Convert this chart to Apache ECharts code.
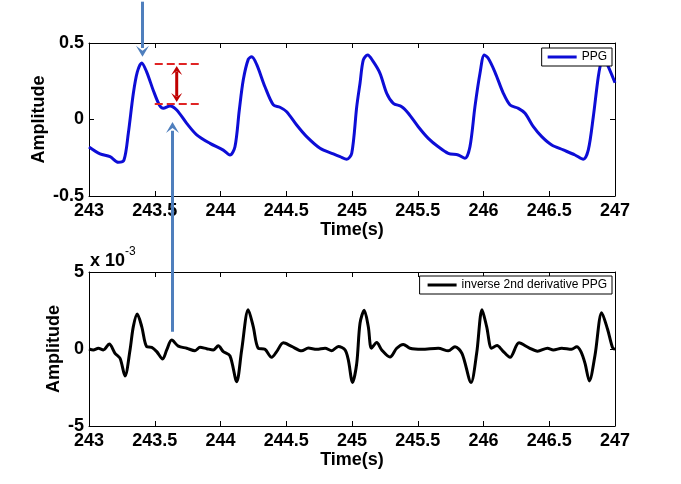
<!DOCTYPE html>
<html>
<head>
<meta charset="utf-8">
<script src="https://cdn.jsdelivr.net/npm/echarts@6/dist/echarts.min.js"></script>
<style>html,body{margin:0;padding:0;background:#fff}#c{width:681px;height:484px}</style>
</head>
<body>
<div id="c"></div>
<script>
// ---- data ----
const ppgTime = [243.000,243.084,243.160,243.223,243.266,243.299,243.337,243.367,243.401,243.439,243.489,243.535,243.565,243.616,243.667,243.743,243.819,243.920,244.021,244.072,244.110,244.143,244.173,244.211,244.237,244.275,244.338,244.402,244.452,244.503,244.579,244.655,244.757,244.858,244.909,244.960,244.998,245.036,245.061,245.086,245.119,245.162,245.213,245.264,245.314,245.378,245.428,245.504,245.580,245.656,245.732,245.808,245.859,245.897,245.935,245.973,246.006,246.036,246.087,246.151,246.202,246.265,246.316,246.379,246.443,246.519,246.607,246.696,246.759,246.797,246.835,246.873,246.899,246.916,246.949,247.000];
const ppgValue = [-0.18,-0.225,-0.243,-0.28,-0.265,-0.09,0.17,0.31,0.37,0.31,0.19,0.095,0.073,0.088,0.062,-0.025,-0.10,-0.156,-0.20,-0.232,-0.178,0.062,0.258,0.393,0.41,0.36,0.214,0.095,0.08,0.051,-0.036,-0.112,-0.188,-0.225,-0.243,-0.26,-0.221,0.084,0.237,0.389,0.422,0.378,0.302,0.171,0.106,0.084,0.041,-0.047,-0.123,-0.178,-0.221,-0.232,-0.254,-0.178,0.084,0.30,0.422,0.40,0.31,0.171,0.095,0.073,0.041,-0.047,-0.112,-0.167,-0.199,-0.232,-0.26,-0.199,0.018,0.28,0.39,0.40,0.345,0.24];

const derivTime = [243.000,243.033,243.071,243.109,243.154,243.198,243.236,243.274,243.312,243.337,243.367,243.401,243.439,243.477,243.515,243.560,243.591,243.629,243.679,243.743,243.806,243.844,243.895,243.945,243.983,244.021,244.072,244.123,244.161,244.211,244.249,244.287,244.338,244.389,244.427,244.478,244.541,244.617,244.668,244.732,244.795,244.846,244.896,244.947,244.972,245.004,245.036,245.061,245.093,245.124,245.148,245.188,245.226,245.289,245.340,245.390,245.441,245.530,245.656,245.732,245.783,245.837,245.905,245.948,245.989,246.024,246.062,246.103,246.144,246.202,246.270,246.346,246.411,246.487,246.531,246.595,246.670,246.709,246.741,246.772,246.805,246.848,246.899,246.943,246.981,247.000];
// values in units of 10^-3
const derivValueE3 = [0.0,-0.06,0.05,-0.06,0.32,-0.28,-0.6,-1.75,-0.06,1.45,2.27,1.45,0.15,0.11,-0.17,-0.65,-0.06,0.58,0.19,0.05,-0.11,0.11,0.02,-0.06,0.21,-0.17,-0.45,-2.12,-0.06,2.55,1.45,0.05,-0.02,-0.54,-0.17,0.4,0.17,-0.12,0.06,-0.02,0.05,-0.11,0.17,-0.06,-0.71,-2.17,-0.93,1.67,2.51,1.45,0.05,0.42,-0.06,-0.52,0.05,0.3,0.05,-0.02,0.05,-0.12,0.15,-0.3,-2.17,-0.28,2.55,1.45,0.05,0.22,-0.1,-0.54,0.4,0.08,-0.14,0.05,-0.06,0.05,-0.02,0.15,-0.17,-0.93,-2.07,-0.4,2.36,1.3,0.1,-0.02];

const xTickMin = 243, xTickMax = 247, xTickStep = 0.5;
const ppgYMin = -0.5, ppgYMax = 0.5, ppgYStep = 0.5;
const derivYMin = -5, derivYMax = 5, derivYStep = 5;

const seriesNames = ['PPG', 'inverse 2nd derivative PPG'];
const axisTitles = { x: 'Time(s)', y: 'Amplitude' };
const scaleNote = ['x 10', '-3'];

// annotation anchors (data coordinates)
const peakArrow = { t: 243.40, from: 0.77, to: 0.41 };
const notchArrow = { t: 243.63, fromE3: 1.12, to: -0.016 };
const levelLines = { t0: 243.50, t1: 243.84, upper: 0.363, lower: 0.101, arrowT: 243.667 };

// ---- chart ----
const chart = echarts.init(document.getElementById('c'), null, { renderer: 'canvas' });
const FONT = 'Liberation Sans, Arial, sans-serif';
const lblStyle = { color: '#000', fontFamily: FONT, fontWeight: 'bold', fontSize: 18 };

function xAx(grid, pos, show) {
  return {
    type: 'value', gridIndex: grid, position: pos, min: xTickMin, max: xTickMax, interval: xTickStep,
    axisLine: { show: true, onZero: false, lineStyle: { color: '#000', width: 1 } },
    axisTick: { show: true, inside: true, length: 5, lineStyle: { color: '#000' } },
    splitLine: { show: false },
    axisLabel: show ? Object.assign({ show: true, margin: 6, showMinLabel: true, showMaxLabel: true }, lblStyle) : { show: false },
    name: show ? axisTitles.x : '', nameLocation: 'middle', nameGap: 24,
    nameTextStyle: lblStyle
  };
}
function yAx(grid, pos, min, max, step, show, gap) {
  return {
    type: 'value', gridIndex: grid, position: pos, min: min, max: max, interval: step,
    axisLine: { show: true, onZero: false, lineStyle: { color: '#000', width: 1 } },
    axisTick: { show: true, inside: true, length: 5, lineStyle: { color: '#000' } },
    splitLine: { show: false },
    axisLabel: show ? Object.assign({ show: true, margin: 5, showMinLabel: true, showMaxLabel: true }, lblStyle) : { show: false },
    name: show ? axisTitles.y : '', nameLocation: 'middle', nameGap: gap, nameRotate: 90,
    nameMoveOverlap: false,
    nameTextStyle: lblStyle
  };
}

function makeLegend(name, top, padLeft) {
  return {
    data: [name], right: 69, top: top, padding: [3, 5, 3, padLeft],
    orient: 'vertical', icon: 'rect', itemWidth: 29, itemHeight: 3, itemGap: 0,
    backgroundColor: '#fff', borderColor: '#000', borderWidth: 1, borderRadius: 0,
    textStyle: { color: '#000', fontFamily: FONT, fontSize: 12 }, selectedMode: false
  };
}

chart.setOption({
  animation: false,
  backgroundColor: '#fff',
  grid: [
    { left: 89, right: 66, top: 43, height: 153, containLabel: false, outerBoundsMode: 'none' },
    { left: 89, right: 66, top: 272, height: 154, containLabel: false, outerBoundsMode: 'none' }
  ],
  xAxis: [xAx(0, 'bottom', true), xAx(0, 'top', false), xAx(1, 'bottom', true), xAx(1, 'top', false)],
  yAxis: [
    yAx(0, 'left', ppgYMin, ppgYMax, ppgYStep, true, 41),
    yAx(0, 'right', ppgYMin, ppgYMax, ppgYStep, false, 0),
    yAx(1, 'left', derivYMin, derivYMax, derivYStep, true, 26),
    yAx(1, 'right', derivYMin, derivYMax, derivYStep, false, 0)
  ],
  legend: [makeLegend(seriesNames[0], 48, 6), makeLegend(seriesNames[1], 276, 8)],
  series: [
    {
      type: 'line', name: seriesNames[0], xAxisIndex: 0, yAxisIndex: 0,
      data: ppgTime.map((t, i) => [t, ppgValue[i]]),
      showSymbol: false, smooth: 0.3, clip: true,
      lineStyle: { color: '#0d0dd6', width: 3 }, itemStyle: { color: '#0d0dd6' }
    },
    {
      type: 'line', name: seriesNames[1], xAxisIndex: 2, yAxisIndex: 2,
      data: derivTime.map((t, i) => [t, derivValueE3[i]]),
      showSymbol: false, smooth: 0.3, clip: true,
      lineStyle: { color: '#000', width: 3 }, itemStyle: { color: '#000' }
    }
  ]
});

// ---- annotations positioned from data coordinates ----
const P0 = (t, v) => chart.convertToPixel({ gridIndex: 0 }, [t, v]);
const P1 = (t, v) => chart.convertToPixel({ gridIndex: 1 }, [t, v]);
const BLUE = '#4f7fbd', RED_D = '#e02424', RED_A = '#c00000';
const els = [];
function vArrow(x, ySrc, yTip, color, w, hl, hw, z) {
  const dir = yTip > ySrc ? 1 : -1;
  els.push({ type: 'line', z: z, shape: { x1: x, y1: ySrc, x2: x, y2: yTip - dir * hl * 0.8 }, style: { stroke: color, lineWidth: w } });
  els.push({ type: 'polygon', z: z, shape: { points: [[x, yTip], [x - hw / 2, yTip - dir * hl], [x, yTip - dir * hl * 0.55], [x + hw / 2, yTip - dir * hl]] }, style: { fill: color } });
}
// peak arrow
{
  const a = P0(peakArrow.t, peakArrow.from), b = P0(peakArrow.t, peakArrow.to);
  vArrow(Math.round(a[0]) + 0.5, a[1], b[1], BLUE, 3, 11, 13, 50);
}
// notch arrow (spans both panels)
{
  const a = P1(notchArrow.t, notchArrow.fromE3), b = P0(notchArrow.t, notchArrow.to);
  vArrow(Math.round(a[0]) + 0.5, a[1], b[1], BLUE, 3, 11, 13, 50);
}
// level lines and double arrow
{
  const u0 = P0(levelLines.t0, levelLines.upper), u1 = P0(levelLines.t1, levelLines.upper);
  const l0 = P0(levelLines.t0, levelLines.lower), l1 = P0(levelLines.t1, levelLines.lower);
  els.push({ type: 'line', z: 50, shape: { x1: u0[0], y1: u0[1], x2: u1[0], y2: u1[1] }, style: { stroke: RED_D, lineWidth: 2, lineDash: [8, 4] } });
  els.push({ type: 'line', z: 50, shape: { x1: l0[0], y1: l0[1], x2: l1[0], y2: l1[1] }, style: { stroke: RED_D, lineWidth: 2, lineDash: [8, 4] } });
  const top = P0(levelLines.arrowT, levelLines.upper), bot = P0(levelLines.arrowT, levelLines.lower);
  const x = top[0], y0 = top[1] + 2, y1 = bot[1] - 2, hl = 9, hw = 11;
  els.push({ type: 'line', z: 51, shape: { x1: x, y1: y0 + hl * 0.6, x2: x, y2: y1 - hl * 0.6 }, style: { stroke: RED_A, lineWidth: 3 } });
  els.push({ type: 'polygon', z: 51, shape: { points: [[x, y0], [x - hw / 2, y0 + hl], [x, y0 + hl * 0.55], [x + hw / 2, y0 + hl]] }, style: { fill: RED_A } });
  els.push({ type: 'polygon', z: 51, shape: { points: [[x, y1], [x - hw / 2, y1 - hl], [x, y1 - hl * 0.55], [x + hw / 2, y1 - hl]] }, style: { fill: RED_A } });
}
// scale note for bottom panel
{
  const c = P1(xTickMin, derivYMax);
  els.push({ type: 'text', z: 60, x: c[0] + 1, y: c[1] - 11, style: { text: scaleNote[0], fill: '#000', font: 'bold 18px ' + FONT, textAlign: 'left', textVerticalAlign: 'middle' } });
  els.push({ type: 'text', z: 60, x: c[0] + 36, y: c[1] - 20, style: { text: scaleNote[1], fill: '#000', font: '12px ' + FONT, textAlign: 'left', textVerticalAlign: 'middle' } });
}
chart.setOption({ graphic: { elements: els } });
</script>
</body>
</html>
